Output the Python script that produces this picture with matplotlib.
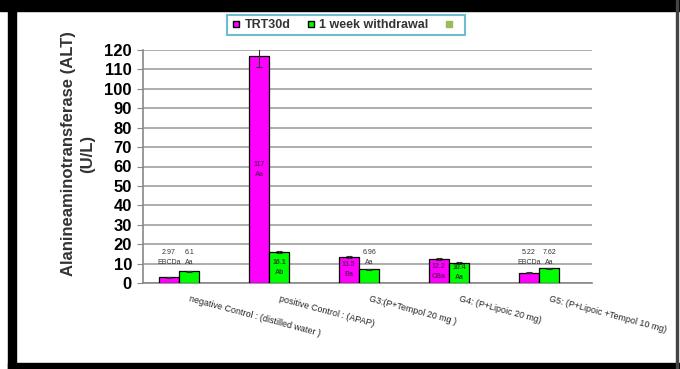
import numpy as np
import matplotlib
matplotlib.use('Agg')
import matplotlib.pyplot as plt
from matplotlib.patches import Rectangle
from matplotlib.lines import Line2D

plt.rcParams['font.family'] = ['Liberation Sans', 'DejaVu Sans']

# Datos de ALT por grupo
grupos = ['negative Control : (distilled water )', 'positive Control : (APAP)',
          'G3:(P+Tempol 20 mg )', 'G4: (P+Lipoic 20 mg)', 'G5: (P+Lipoic +Tempol 10 mg)']
trt30d = [2.97, 117, 13.5, 12.2, 5.22]
trt30d_err = [0.25, 5.5, 0.6, 0.5, 0.3]
trt30d_letras = ['EBCDa', 'Aa', 'Ba', 'CBa', 'EBCDa']
retiro = [6.1, 16.1, 6.96, 10.4, 7.62]
retiro_err = [0.3, 0.6, 0.3, 0.4, 0.3]
retiro_letras = ['Aa', 'Ab', 'Aa', 'Aa', 'Aa']
# etiqueta dentro de la barra (True) o encima (False)
dentro_trt = [False, True, True, True, False]
dentro_ret = [False, True, False, True, False]
yticks = list(range(0, 121, 10))

fig = plt.figure(figsize=(6.8, 3.69), dpi=100)
ax = fig.add_axes([143 / 680, 1 - 283 / 369, 449 / 680, 233 / 369])

x = np.arange(len(grupos))
w = 0.225
magenta = '#FF00FF'
verde = '#00FF00'

ax.bar(x - w / 2, trt30d, w, color=magenta, edgecolor='black', linewidth=0.9, zorder=3)
ax.bar(x + w / 2, retiro, w, color=verde, edgecolor='black', linewidth=0.9, zorder=3)
ax.errorbar(x - w / 2, trt30d, yerr=trt30d_err, fmt='none', ecolor='#333333',
            elinewidth=0.8, capsize=2.5, capthick=0.8, zorder=4)
ax.errorbar(x + w / 2, retiro, yerr=retiro_err, fmt='none', ecolor='#333333',
            elinewidth=0.8, capsize=2.5, capthick=0.8, zorder=4)

# Etiquetas de valor y letras
def etiquetar(xs, vals, letras, dentro, color_dentro):
    for xi, v, l, d in zip(xs, vals, letras, dentro):
        if d:
            ax.text(xi, v / 2, f'{v:g}\n{l}', ha='center', va='center', fontsize=5,
                    color=color_dentro, fontweight='bold', linespacing=1.6, zorder=5)
        else:
            ax.text(xi, 13, f'{v:g}\n{l}', ha='center', va='center', fontsize=5,
                    color='#333333', linespacing=1.6, zorder=5)

etiquetar(x - w / 2, trt30d, trt30d_letras, dentro_trt, '#701070')
etiquetar(x + w / 2, retiro, retiro_letras, dentro_ret, '#1f4f1f')

ax.set_xlim(-0.4, 4.59)
ax.set_ylim(0, 120)
ax.set_yticks(yticks)
ax.set_yticklabels([str(t) for t in yticks], fontsize=12, fontweight='bold')
ax.yaxis.grid(True, color='#a0a0a0', linewidth=1.2, zorder=0)
ax.set_axisbelow(True)
ax.tick_params(axis='y', length=4, color='#888888', pad=4)
ax.set_xticks([])
for s in ['top', 'right']:
    ax.spines[s].set_visible(False)
for s in ['left', 'bottom']:
    ax.spines[s].set_color('#888888')
    ax.spines[s].set_linewidth(1.2)

for xi, g in zip(x, grupos):
    ax.annotate(g, xy=(xi, 0), xycoords='data', xytext=(8, -8), textcoords='offset points',
                ha='left', va='top', rotation=-15, rotation_mode='anchor',
                fontsize=6.4, color='#222222')

fig.text(68 / 680, 1 - 154 / 369, 'Alanineaminotransferase (ALT)', rotation=90,
         ha='center', va='center', fontsize=12, fontweight='bold', color='#333333')
fig.text(88 / 680, 1 - 154 / 369, '(U/L)', rotation=90,
         ha='center', va='center', fontsize=12, fontweight='bold', color='#333333')

# Leyenda
handles = [Line2D([], [], marker='s', linestyle='none', markerfacecolor=magenta,
                  markeredgecolor='black', markersize=5),
           Line2D([], [], marker='s', linestyle='none', markerfacecolor=verde,
                  markeredgecolor='black', markersize=5),
           Line2D([], [], marker='s', linestyle='none', markerfacecolor='#9bbb59',
                  markeredgecolor='#9bbb59', markersize=5)]
leg = fig.legend(handles, ['TRT30d', '1 week withdrawal', ' '], loc='center',
                 bbox_to_anchor=(346 / 680, 1 - 25 / 369), ncol=3, frameon=True,
                 fancybox=False, handlelength=0.8, handletextpad=0.3, columnspacing=1.2,
                 borderpad=0.35, prop={'weight': 'bold', 'size': 9})
leg.get_frame().set_edgecolor('#4bacc6')
leg.get_frame().set_linewidth(1.5)
for t in leg.get_texts():
    t.set_color('#333333')

# Marco exterior
fig.patches.append(Rectangle((8 / 680, 0), 8 / 680, 1, transform=fig.transFigure,
                             color='black', zorder=10))
fig.patches.append(Rectangle((0, 1 - 11 / 369), 1, 11 / 369, transform=fig.transFigure,
                             color='black', zorder=10))
fig.patches.append(Rectangle((8 / 680, 0), 1, 6 / 369, transform=fig.transFigure,
                             color='black', zorder=10))
fig.patches.append(Rectangle((676 / 680, 0), 2 / 680, 1, transform=fig.transFigure,
                             color='#444444', zorder=10))

fig.savefig('out.png', dpi=100)
